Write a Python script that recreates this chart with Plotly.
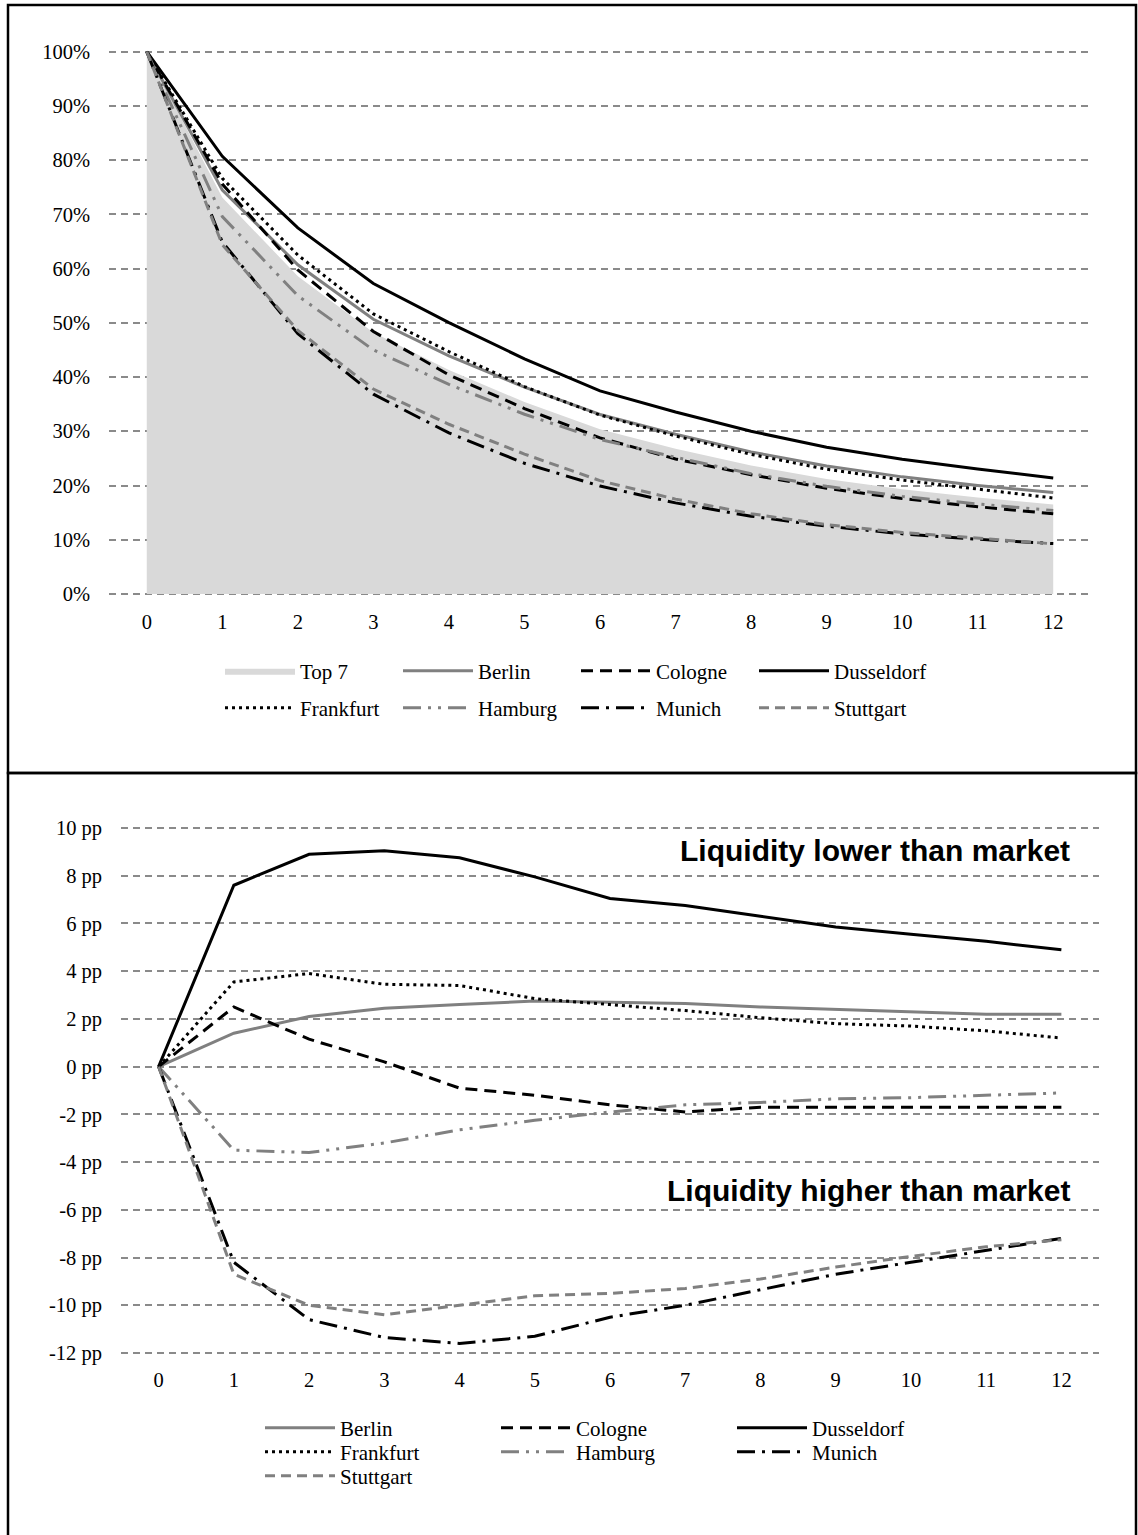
import plotly.graph_objects as go

W, H = 1138, 1535
def px(x): return x / W
def py(y): return 1 - y / H

months = list(range(13))
tick_labels = [str(m) for m in months]

# Panel A: share of remaining (not yet sold) in %
top7       = [100, 73.1, 58.6, 48.2, 41.3, 35.4, 30.4, 26.8, 23.7, 21.2, 19.3, 17.8, 16.5]
berlin_a   = [100, 74.5, 60.7, 50.65, 43.9, 38.15, 33.1, 29.45, 26.2, 23.6, 21.6, 20.0, 18.7]
cologne_a  = [100, 75.6, 59.75, 48.4, 40.4, 34.2, 28.8, 24.9, 22.0, 19.5, 17.6, 16.1, 14.8]
dussel_a   = [100, 80.7, 67.5, 57.25, 50.05, 43.35, 37.45, 33.55, 30.0, 27.05, 24.85, 23.05, 21.4]
frankf_a   = [100, 76.65, 62.5, 51.65, 44.7, 38.25, 33.0, 29.15, 25.75, 23.0, 21.0, 19.3, 17.7]
hamburg_a  = [100, 69.6, 55.0, 45.0, 38.65, 33.15, 28.5, 25.2, 22.2, 19.85, 18.0, 16.6, 15.4]
munich_a   = [100, 64.9, 48.0, 36.85, 29.7, 24.1, 19.9, 16.8, 14.35, 12.5, 11.1, 10.1, 9.3]
stuttg_a   = [100, 64.4, 48.6, 37.8, 31.3, 25.8, 20.9, 17.5, 14.8, 12.8, 11.35, 10.25, 9.25]
pct_vals   = [0, 10, 20, 30, 40, 50, 60, 70, 80, 90, 100]
pct_labels = ["0%", "10%", "20%", "30%", "40%", "50%", "60%", "70%", "80%", "90%", "100%"]

# Panel B: difference to market in percentage points
berlin_b   = [0, 1.4, 2.1, 2.45, 2.6, 2.75, 2.7, 2.65, 2.5, 2.4, 2.3, 2.2, 2.2]
cologne_b  = [0, 2.5, 1.15, 0.2, -0.9, -1.2, -1.6, -1.9, -1.7, -1.7, -1.7, -1.7, -1.7]
dussel_b   = [0, 7.6, 8.9, 9.05, 8.75, 7.95, 7.05, 6.75, 6.3, 5.85, 5.55, 5.25, 4.9]
frankf_b   = [0, 3.55, 3.9, 3.45, 3.4, 2.85, 2.6, 2.35, 2.05, 1.8, 1.7, 1.5, 1.2]
hamburg_b  = [0, -3.5, -3.6, -3.2, -2.65, -2.25, -1.9, -1.6, -1.5, -1.35, -1.3, -1.2, -1.1]
munich_b   = [0, -8.2, -10.6, -11.35, -11.6, -11.3, -10.5, -10.0, -9.35, -8.7, -8.2, -7.7, -7.2]
stuttg_b   = [0, -8.7, -10.0, -10.4, -10.0, -9.6, -9.5, -9.3, -8.9, -8.4, -7.95, -7.55, -7.25]
pp_vals    = [-12, -10, -8, -6, -4, -2, 0, 2, 4, 6, 8, 10]
pp_labels  = ["-12 pp", "-10 pp", "-8 pp", "-6 pp", "-4 pp", "-2 pp", "0 pp",
              "2 pp", "4 pp", "6 pp", "8 pp", "10 pp"]

BLACK = "#000000"
GRAY = "#808080"
AREA = "#d9d9d9"
GRID = "#8a8a8a"
SERIF = "Liberation Serif, Times New Roman, serif"
SANS = "Liberation Sans, Arial, sans-serif"
FS = 20.5
LFS = 21

styles = {
    "Berlin":     dict(color=GRAY, width=3, dash="solid"),
    "Cologne":    dict(color=BLACK, width=3, dash="12px,7px"),
    "Dusseldorf": dict(color=BLACK, width=3, dash="solid"),
    "Frankfurt":  dict(color=BLACK, width=3, dash="3px,4px"),
    "Hamburg":    dict(color=GRAY, width=3, dash="18px,7px,3px,7px,3px,7px"),
    "Munich":     dict(color=BLACK, width=3, dash="18px,7px,3px,7px"),
    "Stuttgart":  dict(color=GRAY, width=3, dash="10px,6px"),
}

fig = go.Figure()

# ---- top panel ----
fig.add_trace(go.Scatter(x=months, y=top7, name="Top 7", mode="lines", fill="tozeroy",
                         fillcolor=AREA, line=dict(color=AREA, width=0),
                         xaxis="x", yaxis="y", legend="legend", cliponaxis=False))
top_series = [("Berlin", berlin_a, "legend"), ("Cologne", cologne_a, "legend"),
              ("Dusseldorf", dussel_a, "legend"), ("Frankfurt", frankf_a, "legend2"),
              ("Hamburg", hamburg_a, "legend2"), ("Munich", munich_a, "legend2"),
              ("Stuttgart", stuttg_a, "legend2")]
for name, vals, lg in top_series:
    fig.add_trace(go.Scatter(x=months, y=vals, name=name, mode="lines", line=styles[name],
                             xaxis="x", yaxis="y", legend=lg, cliponaxis=False))

# ---- bottom panel ----
bot_series = [("Berlin", berlin_b, "legend3"), ("Cologne", cologne_b, "legend3"),
              ("Dusseldorf", dussel_b, "legend3"), ("Frankfurt", frankf_b, "legend4"),
              ("Hamburg", hamburg_b, "legend4"), ("Munich", munich_b, "legend4"),
              ("Stuttgart", stuttg_b, "legend5")]
for name, vals, lg in bot_series:
    fig.add_trace(go.Scatter(x=months, y=vals, name=name, mode="lines", line=styles[name],
                             xaxis="x2", yaxis="y2", legend=lg, cliponaxis=False))

tickfont = dict(family=SERIF, size=FS, color=BLACK)
xr = [-0.5, 12.5]

# pixel geometry of the two plot areas (value extremes -> pixel rows)
top_y0, top_y1, top_v0, top_v1 = 594.0, 51.7, 0.0, 100.0
bot_y0, bot_y1, bot_v0, bot_v1 = 1353.0, 828.0, -12.0, 10.0
pad_top, pad_bot = 0.35, 0.08   # tiny range padding so edge gridlines are drawn
k_top = (top_y0 - top_y1) / (top_v1 - top_v0)
k_bot = (bot_y0 - bot_y1) / (bot_v1 - bot_v0)
top_range = [top_v0 - pad_top, top_v1 + pad_top]
bot_range = [bot_v0 - pad_bot, bot_v1 + pad_bot]
top_dom_y = [py(top_y0 + pad_top * k_top), py(top_y1 - pad_top * k_top)]
bot_dom_y = [py(bot_y0 + pad_bot * k_bot), py(bot_y1 - pad_bot * k_bot)]

def zero_position(dom, rng):
    return dom[0] + (0 - rng[0]) / (rng[1] - rng[0]) * (dom[1] - dom[0])

common_grid = dict(showgrid=True, gridcolor=GRID, gridwidth=1.5, griddash="7px,5px",
                   zeroline=False, showline=False, ticks="", tickfont=tickfont,
                   tickmode="array")

def legend_cfg(x0, yc, itemw, entryw):
    return dict(orientation="h", x=px(x0), xanchor="left", y=py(yc), yanchor="middle",
                font=dict(family=SERIF, size=LFS, color=BLACK), bgcolor="rgba(0,0,0,0)",
                itemwidth=itemw, entrywidth=entryw, entrywidthmode="pixels",
                traceorder="normal", tracegroupgap=0, itemclick=False, itemdoubleclick=False)

tick_axis = dict(range=xr, tickmode="linear", tick0=-0.5, dtick=1, ticks="outside",
                 ticklen=6, tickwidth=1.5, tickcolor=GRID, showticklabels=False,
                 showline=True, linecolor=GRID, linewidth=1.5, showgrid=False,
                 zeroline=False, layer="below traces", automargin=False, side="bottom")

fig.update_layout(
    width=W, height=H, margin=dict(l=0, r=0, t=0, b=0),
    paper_bgcolor="white", plot_bgcolor="white",
    font=dict(family=SERIF, size=FS, color=BLACK),
    xaxis=dict(domain=[px(109), px(1091)], range=xr, anchor="y", tickmode="array",
               tickvals=months, ticktext=tick_labels, ticks="", showline=False,
               showgrid=False, zeroline=False, tickfont=tickfont, ticklabelstandoff=12,
               automargin=False),
    xaxis4=dict(overlaying="x", anchor="free", position=zero_position(top_dom_y, top_range),
                **tick_axis),
    yaxis=dict(domain=top_dom_y, range=top_range, tickvals=pct_vals, ticktext=pct_labels,
               anchor="x", ticklabelstandoff=18, automargin=False, **common_grid),
    xaxis2=dict(domain=[px(121), px(1099)], range=xr, anchor="y2", tickmode="array",
                tickvals=months, ticktext=tick_labels, ticks="", showline=False,
                showgrid=False, zeroline=False, tickfont=tickfont, ticklabelstandoff=11,
                automargin=False),
    xaxis3=dict(overlaying="x2", anchor="free", position=zero_position(bot_dom_y, bot_range),
                **tick_axis),
    yaxis2=dict(domain=bot_dom_y, range=bot_range, tickvals=pp_vals, ticktext=pp_labels,
                anchor="x2", ticklabelstandoff=18, automargin=False, **common_grid),
    legend=legend_cfg(220, 671, 70, 93),
    legend2=legend_cfg(220, 708, 70, 93),
    legend3=legend_cfg(260, 1428, 70, 151),
    legend4=legend_cfg(260, 1452, 70, 151),
    legend5=legend_cfg(260, 1476, 70, 151),
    showlegend=True,
)

fig.add_annotation(x=12.14, y=9.05, xref="x2", yref="y2", xanchor="right", yanchor="middle",
                   text="Liquidity lower than market", showarrow=False,
                   font=dict(family=SANS, size=30, color=BLACK, weight="bold"))
fig.add_annotation(x=12.14, y=-5.2, xref="x2", yref="y2", xanchor="right", yanchor="middle",
                   text="Liquidity higher than market", showarrow=False,
                   font=dict(family=SANS, size=30, color=BLACK, weight="bold"))

# panel frames
fig.add_shape(type="rect", xref="paper", yref="paper", x0=px(8), x1=px(1136), y0=py(773),
              y1=py(5), line=dict(color=BLACK, width=2.5), layer="above")
fig.add_shape(type="rect", xref="paper", yref="paper", x0=px(8), x1=px(1136), y0=py(1545),
              y1=py(773), line=dict(color=BLACK, width=2.5), layer="above")

fig.write_html("out.html", config={"displayModeBar": False},
               post_script="document.body.style.margin='0';document.body.style.overflow='hidden';")
